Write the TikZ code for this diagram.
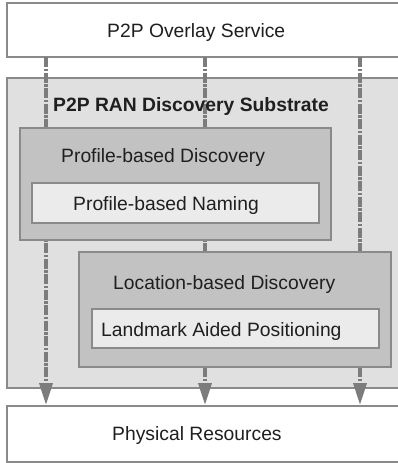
\documentclass[tikz,border=0pt]{standalone}
\usepackage{fontspec}
\setmainfont{Liberation Sans}
\usetikzlibrary{arrows.meta}
\definecolor{edgegray}{HTML}{8A8A8A}
\definecolor{flowgray}{HTML}{7C7C7C}
\definecolor{substratefill}{HTML}{E0E0E0}
\definecolor{layerfill}{HTML}{C2C2C2}
\definecolor{modulefill}{HTML}{EBEBEB}
\tikzset{
  x=1pt, y=1pt,
  layerbox/.style={draw=edgegray, line width=2pt, inner sep=0pt, outer sep=0pt, anchor=north west},
  caption/.style={inner sep=0pt, anchor=base west, font=\fontsize{19.3}{22}\selectfont, text=black!88},
  flow/.style={draw=flowgray, line width=3.6pt, dash pattern=on 10pt off 1.5pt on 2.5pt off 1.5pt,
    -{Triangle[length=22pt, width=13pt]}, shorten >=1pt},
}
\begin{document}
\begin{tikzpicture}
  \useasboundingbox (0,0) rectangle (398,-463);
  \begin{scope}
  \clip (0,0) rectangle (398,-463);
  % outer layers
  \node[layerbox, fill=white, minimum width=396pt, minimum height=54pt] (overlay) at (7,-3) {};
  \node[layerbox, fill=substratefill, minimum width=396pt, minimum height=310pt] (substrate) at (7,-78) {};
  \node[layerbox, fill=white, minimum width=396pt, minimum height=56pt] (physical) at (7,-406) {};
  % columns of the vertical flows
  \coordinate (c1) at (46,0);
  \coordinate (c2) at (205,0);
  \coordinate (c3) at (360,0);
  \foreach \c in {c1,c2,c3}
    \draw[flow] (overlay.south -| \c) -- (physical.north -| \c);
  % discovery components
  \node[layerbox, fill=layerfill, minimum width=311pt, minimum height=112pt] (profile) at (20,-128) {};
  \node[layerbox, fill=modulefill, minimum width=287pt, minimum height=40pt] (naming) at (32,-183) {};
  \node[layerbox, fill=layerfill, minimum width=312pt, minimum height=115pt] (location) at (79,-252) {};
  \node[layerbox, fill=modulefill, minimum width=287pt, minimum height=39pt] (landmark) at (92,-309) {};
  \end{scope}
  % captions
  \node[caption] (toptext) at (107,-37) {P2P Overlay Service};
  \node[caption, font=\fontsize{19.3}{22}\selectfont\bfseries] (subtext) at (53,-111) {P2P RAN Discovery Substrate};
  \node[caption] (proftext) at (61,-162.5) {Profile-based Discovery};
  \node[caption] (nametext) at (73,-210) {Profile-based Naming};
  \node[caption] (loctext) at (113,-289) {Location-based Discovery};
  \node[caption] (landtext) at (101,-336.5) {Landmark Aided Positioning};
  \node[caption] (phystext) at (112,-440) {Physical Resources};
\end{tikzpicture}
\end{document}
